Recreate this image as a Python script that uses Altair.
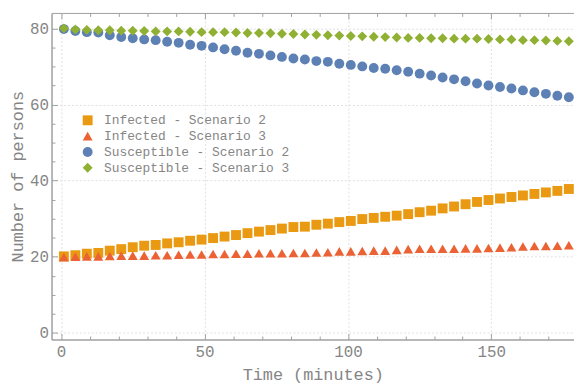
import altair as alt
import pandas as pd

time = [1, 5, 9, 13, 17, 21, 25, 29, 33, 37, 41, 45, 49, 53, 57,
        61, 65, 69, 73, 77, 81, 85, 89, 93, 97, 101, 105, 109, 113, 117,
        121, 125, 129, 133, 137, 141, 145, 149, 153, 157, 161, 165, 169, 173, 177]

infected_s2 = [20.1, 20.4, 20.8, 21.0, 21.6, 22.0, 22.5, 22.9, 23.1, 23.5, 23.8, 24.2, 24.5, 24.9, 25.3,
               25.7, 26.2, 26.6, 27.0, 27.4, 27.8, 27.9, 28.4, 28.7, 29.1, 29.4, 29.9, 30.2, 30.5, 30.8,
               31.2, 31.7, 32.1, 32.7, 33.2, 33.8, 34.4, 34.9, 35.3, 35.7, 36.1, 36.5, 36.9, 37.3, 37.8]

infected_s3 = [19.9, 20.0, 20.1, 20.1, 20.2, 20.3, 20.3, 20.3, 20.4, 20.4, 20.5, 20.6, 20.6, 20.7, 20.7,
               20.8, 20.8, 20.9, 20.9, 20.9, 21.0, 21.0, 21.1, 21.2, 21.4, 21.4, 21.5, 21.6, 21.6, 21.8,
               22.0, 22.1, 22.1, 22.1, 22.1, 22.2, 22.2, 22.3, 22.4, 22.5, 22.7, 22.8, 22.8, 22.9, 23.0]

susceptible_s2 = [79.8, 79.3, 79.0, 78.9, 78.2, 77.7, 77.4, 77.1, 76.9, 76.5, 76.2, 75.7, 75.4, 75.0, 74.5,
                  74.1, 73.6, 73.3, 72.9, 72.5, 72.1, 71.8, 71.4, 71.2, 70.7, 70.4, 70.0, 69.6, 69.4, 69.0,
                  68.6, 68.1, 67.6, 67.1, 66.6, 66.1, 65.5, 65.0, 64.6, 64.2, 63.7, 63.2, 62.8, 62.3, 61.9]

susceptible_s3 = [80.0, 79.7, 79.6, 79.5, 79.5, 79.4, 79.4, 79.3, 79.2, 79.2, 79.2, 79.1, 79.0, 79.0, 79.0,
                  78.9, 78.8, 78.8, 78.7, 78.6, 78.5, 78.4, 78.3, 78.2, 78.1, 78.0, 77.9, 77.8, 77.7, 77.6,
                  77.5, 77.5, 77.4, 77.4, 77.3, 77.3, 77.3, 77.2, 77.1, 77.1, 76.9, 76.9, 76.8, 76.7, 76.6]

series_names = ["Infected - Scenario 2", "Infected - Scenario 3",
                "Susceptible - Scenario 2", "Susceptible - Scenario 3"]
series_values = [infected_s2, infected_s3, susceptible_s2, susceptible_s3]

x_tick_values = [0, 10, 20, 30, 40, 50, 60, 70, 80, 90, 100, 110, 120, 130, 140, 150, 160, 170]
y_tick_values = [0, 5, 10, 15, 20, 25, 30, 35, 40, 45, 50, 55, 60, 65, 70, 75, 80]

rows = []
for name, vals in zip(series_names, series_values):
    for t, v in zip(time, vals):
        rows.append({"t": t, "v": v, "series": name})
df = pd.DataFrame(rows)

FONT = "Liberation Mono"
GRAY = "#858585"
FRAME = "#a0a0a0"
colors = ["#E99A12", "#EB6235", "#5E81B5", "#8FB032"]
shapes = ["square", "triangle-up", "circle", "diamond"]

x_scale = alt.Scale(domain=[-3.3, 178.8], nice=False, zero=False)
y_scale = alt.Scale(domain=[-1.74, 84.05], nice=False, zero=False)

x_major = "datum.value % 50 === 0"
y_major = "datum.value % 20 === 0"

legend = alt.Legend(orient="none", legendX=30, legendY=102, title=None,
                    labelFont=FONT, labelFontSize=13, labelColor=GRAY, labelLimit=0,
                    symbolSize=100, rowPadding=2, labelOffset=10, padding=0,
                    symbolStrokeWidth=0)

x_axis = alt.Axis(orient="bottom", values=x_tick_values,
                  labelExpr=f"{x_major} ? datum.label : ''",
                  title="Time (minutes)", titleFont=FONT, titleFontSize=17,
                  titleFontWeight="normal", titleColor=GRAY, titlePadding=7,
                  labelFont=FONT, labelFontSize=16, labelColor=GRAY,
                  labelPadding=10,
                  domainColor=FRAME, domainWidth=1.5,
                  tickColor=FRAME, tickWidth=1,
                  tickSize={"condition": {"test": x_major, "value": -6}, "value": -3.5},
                  grid=True, gridColor="#e0e0e0", gridDash=[2, 2],
                  gridOpacity={"condition": {"test": x_major, "value": 1}, "value": 0})

y_axis = alt.Axis(orient="left", values=y_tick_values,
                  labelExpr=f"{y_major} ? datum.label : ''",
                  title="Number of persons", titleFont=FONT, titleFontSize=17,
                  titleFontWeight="normal", titleColor=GRAY, titlePadding=3,
                  labelFont=FONT, labelFontSize=16, labelColor=GRAY,
                  labelPadding=9,
                  domainColor=FRAME, domainWidth=1.5,
                  tickColor=FRAME, tickWidth=1,
                  tickSize={"condition": {"test": y_major, "value": -6}, "value": -3.5},
                  grid=True, gridColor="#e0e0e0", gridDash=[2, 2],
                  gridOpacity={"condition": {"test": y_major, "value": 1}, "value": 0})

top_axis = alt.Axis(orient="top", values=x_tick_values, labels=False, title=None,
                    domainColor=FRAME, domainWidth=1,
                    tickColor=FRAME, tickWidth=1,
                    tickSize={"condition": {"test": x_major, "value": -6}, "value": -3.5},
                    grid=False)

points = alt.Chart(df).mark_point(filled=True, opacity=1, size=100).encode(
    x=alt.X("t:Q", scale=x_scale, axis=x_axis),
    y=alt.Y("v:Q", scale=y_scale, axis=y_axis),
    color=alt.Color("series:N", scale=alt.Scale(domain=series_names, range=colors), legend=legend),
    shape=alt.Shape("series:N", scale=alt.Scale(domain=series_names, range=shapes), legend=legend),
)

frame_top = alt.Chart(df).mark_point(opacity=0).encode(
    x=alt.X("t:Q", scale=x_scale, axis=top_axis),
    y=alt.Y("v:Q", scale=y_scale, axis=None),
)

chart = alt.layer(points, frame_top).resolve_axis(
    x="independent", y="independent"
).properties(
    width=528, height=330,
    padding={"left": 44, "top": 3, "right": 0, "bottom": 44},
    autosize=alt.AutoSizeParams(type="none"),
    background="white",
).configure_view(stroke=None)

chart.save("out.html", embed_options={"renderer": "svg", "actions": False})
